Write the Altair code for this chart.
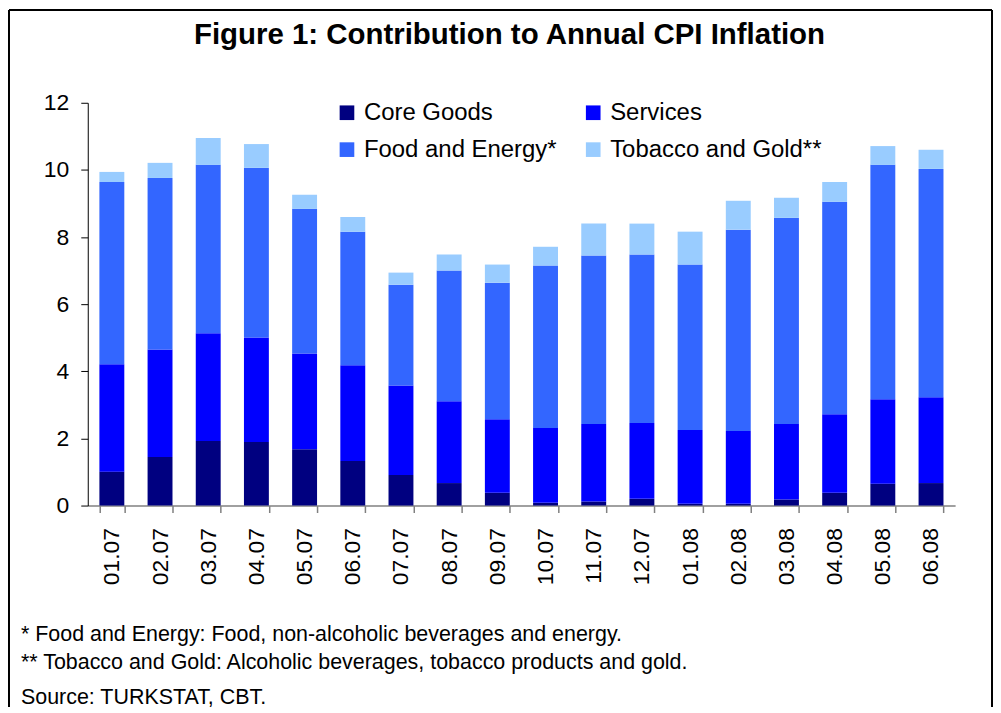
import altair as alt
import pandas as pd

months = ["01.07", "02.07", "03.07", "04.07", "05.07", "06.07", "07.07", "08.07", "09.07",
          "10.07", "11.07", "12.07", "01.08", "02.08", "03.08", "04.08", "05.08", "06.08"]
categories = ["Core Goods", "Services", "Food and Energy*", "Tobacco and Gold**"]
colors = ["#000080", "#0000FF", "#3366FF", "#99CCFF"]
# legend fills column by column: col 1 = Core Goods, Food and Energy*; col 2 = Services, Tobacco and Gold**
legend_order = ["Core Goods", "Food and Energy*", "Services", "Tobacco and Gold**"]
legend_colors = ["#000080", "#3366FF", "#0000FF", "#99CCFF"]

core_goods = [1.01, 1.45, 1.92, 1.89, 1.68, 1.33, 0.91, 0.67, 0.38, 0.08, 0.12, 0.20, 0.05, 0.05, 0.18, 0.38, 0.65, 0.67]
services = [3.20, 3.20, 3.21, 3.12, 2.85, 2.85, 2.67, 2.44, 2.19, 2.23, 2.31, 2.26, 2.20, 2.17, 2.25, 2.34, 2.52, 2.56]
food_energy = [5.43, 5.11, 5.02, 5.05, 4.31, 3.98, 3.00, 3.89, 4.07, 4.84, 5.02, 5.02, 4.93, 6.00, 6.14, 6.33, 6.98, 6.80]
tobacco_gold = [0.30, 0.45, 0.80, 0.71, 0.42, 0.44, 0.36, 0.48, 0.54, 0.56, 0.95, 0.92, 0.98, 0.86, 0.60, 0.59, 0.56, 0.57]

title_text = "Figure 1: Contribution to Annual CPI Inflation"
notes = [
    "* Food and Energy: Food, non-alcoholic beverages and energy.",
    "** Tobacco and Gold: Alcoholic beverages, tobacco products and gold.",
    "Source: TURKSTAT, CBT.",
]

FONT = "Liberation Sans"

rows = []
for i, m in enumerate(months):
    for k, (cat, series) in enumerate(zip(categories, [core_goods, services, food_energy, tobacco_gold])):
        rows.append({"month": m, "category": cat, "value": series[i], "order": k})
df = pd.DataFrame(rows)

bars = alt.Chart(df).mark_bar().encode(
    x=alt.X("month:N", sort=months, title=None,
            scale=alt.Scale(paddingInner=0.483, paddingOuter=0.2415),
            axis=alt.Axis(labelAngle=-90, labelFontSize=23, labelColor="black", labelFont=FONT,
                          tickBand="extent", tickSize=7, tickColor="#808080", tickWidth=1.5,
                          domainColor="#808080", domainWidth=1.5, labelPadding=15, grid=False)),
    y=alt.Y("value:Q", stack="zero", title=None,
            scale=alt.Scale(domain=[0, 12], nice=False),
            axis=alt.Axis(values=[0, 2, 4, 6, 8, 10, 12], labelFontSize=23, labelColor="black",
                          labelFont=FONT, tickSize=7, tickColor="black", domainColor="black",
                          labelPadding=12, grid=False)),
    color=alt.Color("category:N", sort=legend_order,
                    scale=alt.Scale(domain=legend_order, range=legend_colors),
                    legend=alt.Legend(title=None, orient="none", legendX=248, legendY=-2,
                                      columns=2, columnPadding=24, rowPadding=13,
                                      symbolType="square", symbolSize=216, symbolStrokeWidth=0,
                                      labelFontSize=24, labelFont=FONT, labelColor="black",
                                      labelOffset=5, padding=0, labelLimit=400)),
    order=alt.Order("order:Q", sort="ascending"),
)

title_df = pd.DataFrame({"text": [title_text]})
title = alt.Chart(title_df).mark_text(
    font=FONT, fontSize=29.5, fontWeight="bold", align="center", baseline="alphabetic", color="black"
).encode(text="text:N", x=alt.value(423), y=alt.value(-59))

notes_layers = []
for t, yy in zip(notes, [540, 568, 603]):
    notes_layers.append(
        alt.Chart(pd.DataFrame({"text": [t]})).mark_text(
            font=FONT, fontSize=21.5, align="left", baseline="alphabetic", color="black"
        ).encode(text="text:N", x=alt.value(-67), y=alt.value(yy))
    )

frame_df = pd.DataFrame({"a": [0]})
frame_left = alt.Chart(frame_df).mark_rule(color="black", strokeWidth=2).encode(
    x=alt.value(-79), y=alt.value(-93), y2=alt.value(606))
frame_top = alt.Chart(frame_df).mark_rule(color="black", strokeWidth=2).encode(
    x=alt.value(-79), x2=alt.value(907), y=alt.value(-93))
frame_right = alt.Chart(frame_df).mark_rule(color="black", strokeWidth=2).encode(
    x=alt.value(907), y=alt.value(-93), y2=alt.value(606))

chart = alt.layer(bars, title, *notes_layers, frame_left, frame_top, frame_right).properties(
    width=870, height=404,
    autosize=alt.AutoSizeParams(type="none"),
    padding={"left": 80, "top": 94, "right": 38, "bottom": 202},
    background="white",
).configure_view(stroke=None)

chart.save("out.html", embed_options={"renderer": "svg", "actions": False})
